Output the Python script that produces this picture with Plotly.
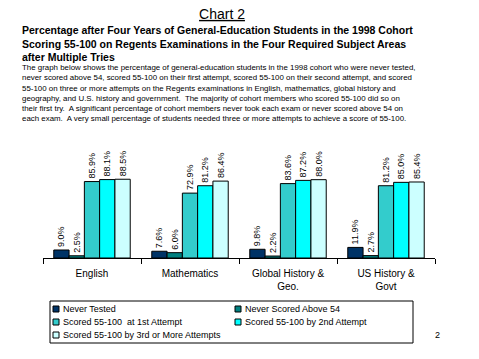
import plotly.graph_objects as go

categories = ["English", "Mathematics", "Global History &<br>Geo.", "US History &<br>Govt"]
never_tested = [9.0, 7.6, 9.8, 11.9]
never_above_54 = [2.5, 6.0, 2.2, 2.7]
first_attempt = [85.9, 72.9, 83.6, 81.2]
second_attempt = [88.1, 81.2, 87.2, 85.0]
third_attempt = [88.5, 86.4, 88.0, 85.4]

series_names = ["Never Tested", "Never Scored Above 54", "Scored 55-100  at 1st Attempt",
                "Scored 55-100 by 2nd Attempt", "Scored 55-100 by 3rd or More Attempts"]
series_values = [never_tested, never_above_54, first_attempt, second_attempt, third_attempt]
series_colors = ["#003366", "#008080", "#33CCCC", "#00FFFF", "#CCFFFF"]

FONT = "Arial, Liberation Sans, sans-serif"

fig = go.Figure()
for name, vals, col in zip(series_names, series_values, series_colors):
    fig.add_trace(go.Bar(
        x=categories, y=vals, name=name,
        marker=dict(color=col, line=dict(color="black", width=1)),
        text=[f"{v:.1f}%" for v in vals],
        textposition="outside", textangle=-90, constraintext="none",
        textfont=dict(family=FONT, size=9, color="black"),
        cliponaxis=False, showlegend=False,
    ))

L, R, T, B = 43, 44, 169, 101
W, H = 479, 359
pw = W - L - R
ph = H - T - B

def px(x):
    return (x - L) / pw

def py(y):
    return (H - B - y) / ph

ann = []
shapes = []
ann.append(dict(text="<b>Percentage after Four Years of General-Education Students in the 1998 Cohort<br>"
                     "Scoring 55-100 on Regents Examinations in the Four Required Subject Areas<br>"
                     "after Multiple Tries</b>",
                x=px(20), y=py(22), xref="paper", yref="paper", xanchor="left", yanchor="top",
                align="left", showarrow=False, font=dict(family=FONT, size=10.5, color="black")))
body = ("The graph below shows the percentage of general-education students in the 1998 cohort who were never tested,<br>"
        "never scored above 54, scored 55-100 on their first attempt, scored 55-100 on their second attempt, and scored<br>"
        "55-100 on three or more attempts on the Regents examinations in English, mathematics, global history and<br>"
        "geography, and U.S. history and government.  The majority of cohort members who scored 55-100 did so on<br>"
        "their first try.  A significant percentage of cohort members never took each exam or never scored above 54 on<br>"
        "each exam.  A very small percentage of students needed three or more attempts to achieve a score of 55-100.")
ann.append(dict(text=body, x=px(20), y=py(61), xref="paper", yref="paper", xanchor="left", yanchor="top",
                align="left", showarrow=False, font=dict(family=FONT, size=7.9, color="black")))
ann.append(dict(text="2", x=px(437), y=py(335), xref="paper", yref="paper", xanchor="center", yanchor="middle",
                showarrow=False, font=dict(family=FONT, size=9, color="black")))

# legend box
shapes.append(dict(type="rect", xref="paper", yref="paper", x0=px(50), x1=px(413), y0=py(301), y1=py(343),
                   line=dict(color="black", width=1), fillcolor="white", layer="above"))
col_x = [53, 235]
row_y = [309, 322, 335]
for i, (name, col) in enumerate(zip(series_names, series_colors)):
    cx = col_x[i % 2]
    cy = row_y[i // 2]
    shapes.append(dict(type="rect", xref="paper", yref="paper", x0=px(cx), x1=px(cx + 6),
                       y0=py(cy - 3), y1=py(cy + 3), line=dict(color="black", width=1),
                       fillcolor=col, layer="above"))
    ann.append(dict(text=name, x=px(cx + 8), y=py(cy), xref="paper", yref="paper",
                    xanchor="left", yanchor="middle", showarrow=False,
                    font=dict(family=FONT, size=9, color="black")))

fig.update_layout(
    width=W, height=H,
    margin=dict(l=L, r=R, t=T, b=B, pad=0, autoexpand=False),
    paper_bgcolor="white", plot_bgcolor="white",
    barmode="group", bargap=0.22, bargroupgap=0,
    title=dict(text="<u>Chart 2</u>", x=222 / W, xref="container", xanchor="center",
               y=1 - 14 / H, yref="container", yanchor="middle",
               font=dict(family=FONT, size=14, color="black")),
    xaxis=dict(showline=True, linecolor="black", linewidth=1, ticks="outside", tickson="boundaries",
               ticklen=5, tickcolor="black", showgrid=False, ticklabelstandoff=6,
               tickfont=dict(family=FONT, size=10, color="black")),
    yaxis=dict(range=[0, 100], visible=False, showgrid=False),
    annotations=ann,
    shapes=shapes,
    showlegend=False,
)

fig.write_html("out.html", config={"displayModeBar": False},
               post_script="document.body.style.margin='0';")
